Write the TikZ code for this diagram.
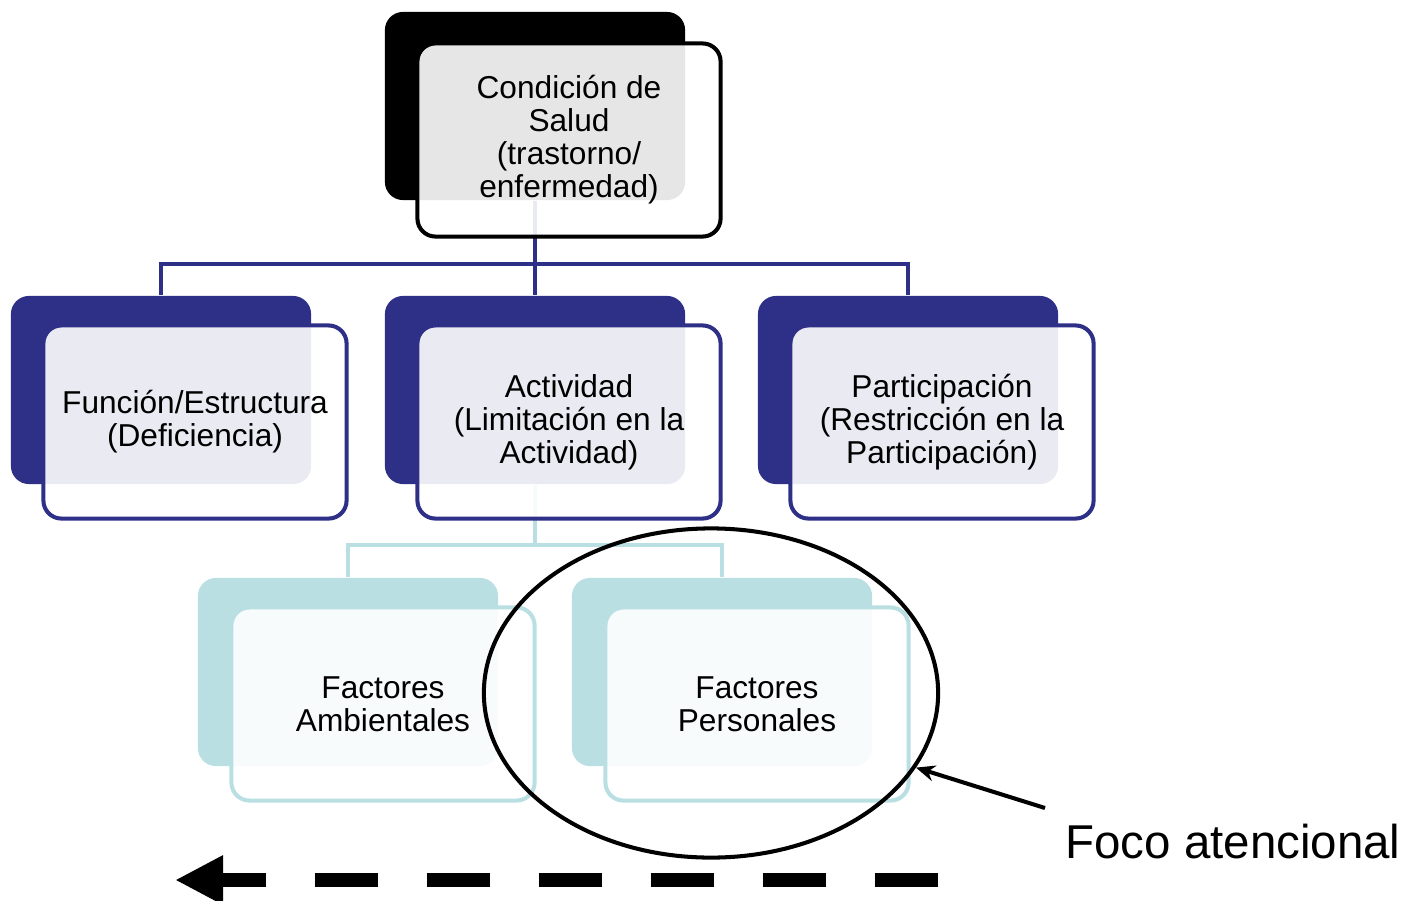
\documentclass[tikz,border=0pt]{standalone}
\usepackage{fontspec}
\setmainfont{Liberation Sans}
\usepackage{tikz}
\definecolor{cifblue}{HTML}{2E3087}
\definecolor{cifteal}{HTML}{B9DFE2}
\usetikzlibrary{calc,positioning,arrows.meta,shapes.geometric,backgrounds}

\begin{document}
\begin{tikzpicture}[x=0.01cm,y=-0.01cm,>={Stealth[length=0.19cm,width=0.16cm]},
    backbox/.style={rounded corners=0.18cm,minimum width=3cm,minimum height=1.88cm,inner sep=0pt},
    frontbox/.style={draw,line width=1.15pt,fill=white,fill opacity=0.9,text opacity=1,rounded corners=0.18cm,
      minimum width=3.03cm,minimum height=1.93cm,inner sep=0pt,align=center,font=\fontsize{9}{9.4}\selectfont},
    link/.style={line width=1.15pt}]
      \useasboundingbox (0,0) rectangle (1404,900);

      % top box
      \node[backbox,fill=black] (S_back) at (535,106) {};
      \node[frontbox,draw=black] (S) at ($(S_back)+(34,34)$) {Condición de\\Salud\\(trastorno/\\enfermedad)};

      % second row
      \node[backbox,fill=cifblue] (F_back) at (161,390) {};
      \node[backbox,fill=cifblue] (A_back) at (535,390) {};
      \node[backbox,fill=cifblue] (P_back) at (908,390) {};
      \node[frontbox,draw=cifblue] (F) at ($(F_back)+(34,32)$) {Función/Estructura\\(Deficiencia)};
      \node[frontbox,draw=cifblue] (A) at ($(A_back)+(34,32)$) {Actividad\\(Limitación en la\\Actividad)};
      \node[frontbox,draw=cifblue] (P) at ($(P_back)+(34,32)$) {Participación\\(Restricción en la\\Participación)};

      % third row
      \node[backbox,fill=cifteal] (E_back) at (348,672) {};
      \node[backbox,fill=cifteal] (R_back) at (722,672) {};
      \node[frontbox,draw=cifteal] (E) at ($(E_back)+(35,32)$) {Factores\\Ambientales};
      \node[frontbox,draw=cifteal] (R) at ($(R_back)+(35,32)$) {Factores\\Personales};

      \coordinate (bus_top) at (535,264);
      \coordinate (bus_low) at (535,545);
      \begin{scope}[on background layer]
        \draw[link,cifblue] (S_back.south) -- (A_back.north);
        \draw[link,cifblue] (F_back.north) |- (bus_top) -| (P_back.north);
        \draw[link,cifteal] (A_back.south) -- (bus_low);
        \draw[link,cifteal] (E_back.north) |- (bus_low) -| (R_back.north);
      \end{scope}

      % focus
      \node[ellipse,draw,line width=1.15pt,minimum width=4.54cm,minimum height=3.29cm,inner sep=0pt] (foco) at (711,693) {};
      \node[font=\fontsize{13.5}{16}\selectfont] (foco_label) at (1233,842) {Foco atencional};
      \coordinate (foco_tail) at (1045,808);
      \draw[->,line width=1.15pt] (foco_tail) -- (foco.-20);

      % direction
      \coordinate (dir_start) at (938,880);
      \coordinate (dir_end) at (175,880);
      \draw[line width=0.14cm,dash pattern=on 0.63cm off 0.49cm,-{Triangle[length=0.48cm,width=0.46cm]}] (dir_start) -- (dir_end);
 \end{tikzpicture}
\end{document}
